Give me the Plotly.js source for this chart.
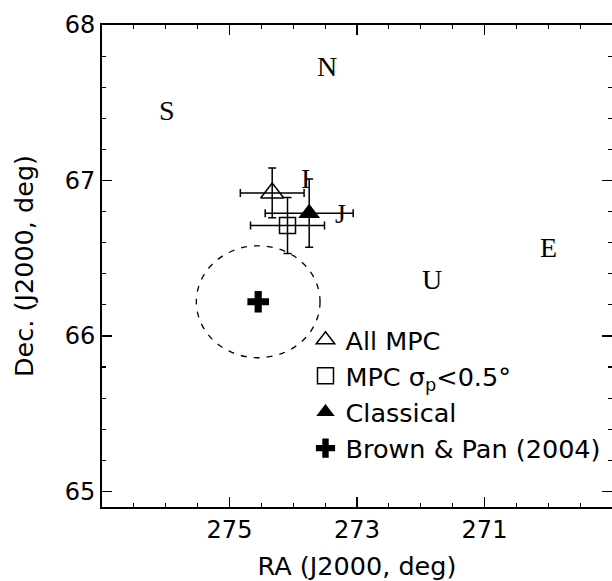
<!DOCTYPE html>
<html>
<head>
<meta charset="utf-8">
<script src="https://cdn.plot.ly/plotly-3.0.1.min.js"></script>
<style>html,body{margin:0;padding:0;background:#fff;}#chart{width:612px;height:581px;}</style>
</head>
<body>
<div id="chart"></div>
<script>
// ---- data ----
const seriesNames = ["All MPC", "MPC σ<sub>p</sub>&lt;0.5°", "Classical", "Brown &amp; Pan (2004)"];
const seriesRA    = [274.33, 274.09, 273.75, 274.55];
const seriesDec   = [66.92, 66.71, 66.79, 66.22];
const seriesErrRA = [0.50, 0.58, 0.69, null];
const seriesErrDec= [0.16, 0.18, 0.22, null];
const circleRA = 274.55, circleDec = 66.22, circleRadRA = 0.97, circleRadDec = 0.36;
const labelText = ["N", "S", "I", "J", "E", "U"];
const labelRA   = [273.47, 275.98, 273.81, 273.26, 270.0, 271.82];
const labelDec  = [67.73, 67.45, 67.01, 66.79, 66.57, 66.36];
const xTickVals = [275, 273, 271];
const yTickVals = [65, 66, 67, 68];

// ---- styles ----
const symbols = ["triangle-up-open", "square-open", "triangle-up", "cross"];
const sizes   = [20, 16, 19, 18];

const traces = seriesNames.map((name, i) => {
  const t = {
    type: "scatter", mode: "markers", name: name,
    x: [seriesRA[i]], y: [seriesDec[i]],
    marker: {symbol: symbols[i], size: sizes[i], color: "#000",
             line: {color: "#000", width: (symbols[i].indexOf("open") >= 0) ? 1.5 : 0}},
    cliponaxis: false
  };
  if (seriesErrRA[i] !== null) {
    t.error_x = {type: "data", symmetric: true, array: [seriesErrRA[i]], color: "#000", thickness: 1.5, width: 4};
    t.error_y = {type: "data", symmetric: true, array: [seriesErrDec[i]], color: "#000", thickness: 1.5, width: 4};
  }
  return t;
});

const annotations = labelText.map((s, i) => ({
  x: labelRA[i], y: labelDec[i], xref: "x", yref: "y", text: s, showarrow: false,
  font: {family: "Liberation Serif, Times New Roman, serif", size: 28, color: "#000"},
  xanchor: "center", yanchor: "middle"
}));

const axisCommon = {
  showline: true, linecolor: "#000", linewidth: 2, mirror: "allticks",
  ticks: "inside", tickcolor: "#000", tickwidth: 1.5, ticklen: 10,
  showgrid: false, zeroline: false,
  tickfont: {family: "DejaVu Sans, sans-serif", size: 24, color: "#000"}
};
const titleFont = {family: "DejaVu Sans, sans-serif", size: 25.5, color: "#000"};

const layout = {
  width: 612, height: 581,
  margin: {l: 102, r: 0, t: 25, b: 74, pad: 0},
  paper_bgcolor: "#fff", plot_bgcolor: "#fff",
  showlegend: true,
  legend: {x: 0.399, y: 0.395, xanchor: "left", yanchor: "top", bgcolor: "rgba(0,0,0,0)",
           font: {family: "DejaVu Sans, sans-serif", size: 25.5, color: "#000"},
           itemsizing: "trace", tracegroupgap: 0},
  xaxis: Object.assign({}, axisCommon, {
    range: [277, 269], autorange: false,
    tickmode: "array", tickvals: xTickVals, ticktext: xTickVals.map(String),
    minor: {tickmode: "linear", tick0: 269, dtick: 0.5, ticks: "inside", ticklen: 4, tickwidth: 1.2, tickcolor: "#000"},
    title: {text: "RA (J2000, deg)", standoff: 14, font: titleFont}
  }),
  yaxis: Object.assign({}, axisCommon, {
    range: [64.9, 68], autorange: false,
    tickmode: "array", tickvals: yTickVals, ticktext: yTickVals.map(String),
    minor: {tickmode: "linear", tick0: 65, dtick: 0.2, ticks: "inside", ticklen: 4, tickwidth: 1.2, tickcolor: "#000"},
    title: {text: "Dec. (J2000, deg)", standoff: 24, font: titleFont}
  }),
  shapes: [{
    type: "circle", xref: "x", yref: "y",
    x0: circleRA - circleRadRA, x1: circleRA + circleRadRA,
    y0: circleDec - circleRadDec, y1: circleDec + circleRadDec,
    line: {color: "#000", width: 1.3, dash: "6px,7px"}
  }],
  annotations: annotations
};

Plotly.newPlot("chart", traces, layout, {staticPlot: true, displayModeBar: false});
</script>
</body>
</html>
